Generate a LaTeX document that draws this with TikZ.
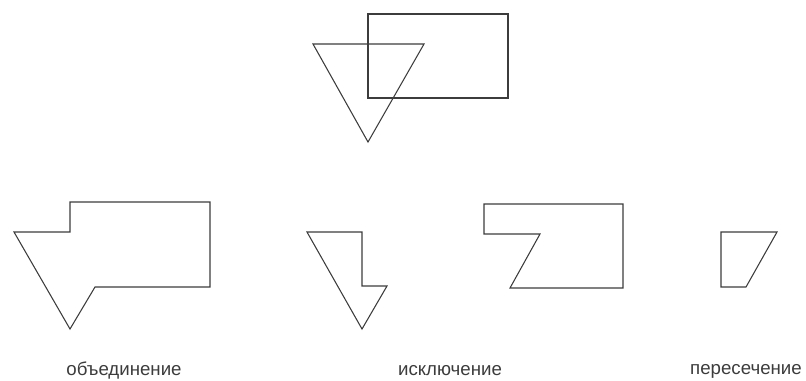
\documentclass[tikz,border=0pt]{standalone}
\usepackage{fontspec}
\setmainfont{Liberation Sans}
\usepackage{tikz}
\definecolor{edgegray}{RGB}{60,60,60}

\begin{document}
\begin{tikzpicture}[x=0.75pt,y=-0.75pt,line width=0.8pt,draw=edgegray,line join=miter]
\useasboundingbox (0,0) rectangle (806,380);
% source figures
\draw[edgegray] (368,14) rectangle (508,98);
\draw[edgegray] (313,44) -- (424,44) -- (368,142) -- cycle;
% union
\draw[edgegray] (70,202) -- (210,202) -- (210,287) -- (95,287) -- (70,329) -- (14,232) -- (70,232) -- cycle;
% triangle minus rectangle
\draw[edgegray] (307,232) -- (362,232) -- (362,286) -- (387,286) -- (362,329) -- cycle;
% rectangle minus triangle
\draw[edgegray] (484,204) -- (623,204) -- (623,288) -- (510,288) -- (540,234) -- (484,234) -- cycle;
% intersection
\draw[edgegray] (721,232) -- (777,232) -- (746,287) -- (721,287) -- cycle;
% labels
\node[font=\fontsize{14}{16}\selectfont,text=edgegray] (union) at (124,371) {объединение};
\node[font=\fontsize{14}{16}\selectfont,text=edgegray] (exclusion) at (450,371) {исключение};
\node[font=\fontsize{14}{16}\selectfont,text=edgegray] (intersection) at (746,371) {пересечение};
\end{tikzpicture}
\end{document}
